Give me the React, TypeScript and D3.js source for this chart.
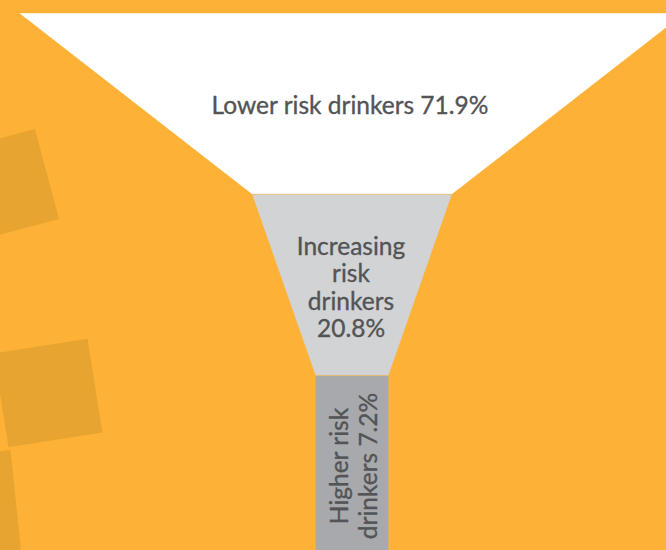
import React from "react";
import * as d3 from "d3";

const W = 666;
const H = 550;

// Funnel stages (top to bottom)
const stageLabels = [
  ["Lower risk drinkers 71.9%"],
  ["Increasing", "risk", "drinkers", "20.8%"],
  ["Higher risk", "drinkers 7.2%"],
];
const stageValues = [71.9, 20.8, 7.2];
// funnel widths at each stage boundary (top edge of stage 0 .. bottom edge of last stage)
const edgeWidths = [666, 200, 73, 73];

const BG = "#FDB136";
const DARK = "#E8A431";
const fills = ["#FFFFFF", "#D1D3D4", "#A7A9AC"];
const TEXT = "#535456";

// decorative rotated squares on the left (cx, cy, size, angle)
const decoCx = [2, 48, -34];
const decoCy = [186, 393, 505];
const decoSize = [93, 95, 100];
const decoAngle = [-15, -9, -6];

export default function App() {
  const centerX = 352;
  const y = d3
    .scaleBand<number>()
    .domain(d3.range(stageValues.length))
    .range([13, 557])
    .paddingInner(0);
  const halfW = d3.scaleLinear().domain([0, 1]).range([0, 0.5]);

  const segs = stageValues.map((v, i) => {
    const y0 = y(i)!;
    const y1 = y0 + y.bandwidth();
    const wt = halfW(edgeWidths[i]);
    const wb = halfW(edgeWidths[i + 1]);
    const pts: [number, number][] = [
      [centerX - wt, y0],
      [centerX + wt, y0],
      [centerX + wb, y1],
      [centerX - wb, y1],
    ];
    return { v, i, y0, y1, d: d3.line()(pts)! + "Z" };
  });

  const font = "Lato, 'Open Sans', sans-serif";
  const fs = 24.5;
  const textProps = {
    fontFamily: font,
    fontSize: fs,
    fill: TEXT,
    stroke: TEXT,
    strokeWidth: 0.35,
  };

  return (
    <svg width={W} height={H} style={{ position: "absolute", left: 0, top: 0 }}>
      <rect x={0} y={0} width={W} height={H} fill={BG} />
      {decoCx.map((cx, i) => (
        <rect
          key={i}
          x={-decoSize[i] / 2}
          y={-decoSize[i] / 2}
          width={decoSize[i]}
          height={decoSize[i]}
          fill={DARK}
          transform={`translate(${cx},${decoCy[i]}) rotate(${decoAngle[i]})`}
        />
      ))}
      {segs.map((s) => (
        <path key={s.i} d={s.d} fill={fills[s.i]} stroke={BG} strokeWidth={0.6} strokeOpacity={0.6} />
      ))}
      {/* stage 0 label */}
      <text x={centerX - 2} y={114} textAnchor="middle" {...textProps}>
        {stageLabels[0][0]}
      </text>
      {/* stage 1 label */}
      <text textAnchor="middle" {...textProps}>
        {stageLabels[1].map((l, k) => (
          <tspan key={k} x={centerX - 1} y={255 + k * 27.4}>
            {l}
          </tspan>
        ))}
      </text>
      {/* stage 2 label, rotated */}
      <g transform={`translate(${centerX},466) rotate(-90)`}>
        <text textAnchor="middle" {...textProps}>
          {stageLabels[2].map((l, k) => (
            <tspan key={k} x={0} y={-4 + k * 29}>
              {l}
            </tspan>
          ))}
        </text>
      </g>
    </svg>
  );
}
